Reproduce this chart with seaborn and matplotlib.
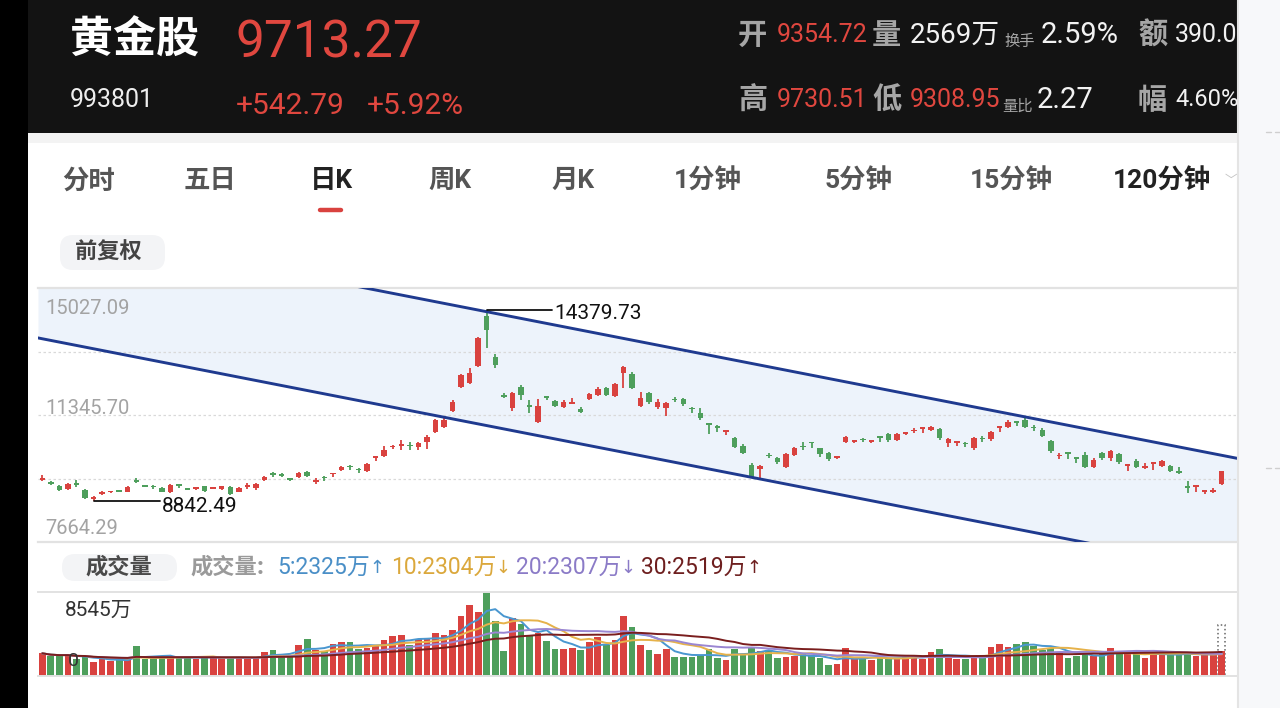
import numpy as np
import pandas as pd
import matplotlib
matplotlib.use('Agg')
import matplotlib.pyplot as plt
from matplotlib.patches import Rectangle, FancyBboxPatch
from matplotlib.transforms import IdentityTransform
from matplotlib.lines import Line2D
import seaborn as sns

# 日K 数据 (黄金股 993801)
opens = [9462, 9390, 9288, 9201, 9375, 9172, 8911, 9042, 9100, 9157,
         9128, 9433, 9302, 9273, 9230, 9114, 9317, 9215, 9201, 9288,
         9215, 9201, 9259, 9114, 9273, 9230, 9462, 9636, 9607, 9505,
         9549, 9694, 9404, 9534, 9622, 9752, 9853, 9766, 9723, 10100,
         10158, 10405, 10448, 10462, 10419, 10564, 10854, 10999, 11463, 12159,
         12275, 12768, 14218, 13029, 11898, 11550, 12159, 11637, 11144, 11869,
         11753, 11579, 11666, 11521, 11811, 11927, 12130, 11898, 12565, 12536,
         11608, 11985, 11579, 11550, 11797, 11811, 11535, 11405, 11086, 10999,
         10854, 10680, 10448, 9897, 9781, 10172, 10100, 9839, 10187, 10434,
         10549, 10390, 10245, 10100, 10564, 10564, 10636, 10564, 10709, 10796,
         10622, 10796, 10868, 10941, 10912, 10941, 10535, 10535, 10520, 10390,
         10665, 10651, 10970, 10999, 11144, 11202, 10985, 10912, 10593, 10143,
         10245, 10100, 10187, 9839, 10245, 10100, 10216, 9868, 10013, 9810,
         9926, 9868, 9868, 9694, 9273, 9259, 9114, 9128, 9354.72]
closes = [9520, 9360, 9172, 9346, 9317, 8940, 8969, 9114, 9128, 9128,
          9259, 9404, 9273, 9245, 9114, 9317, 9302, 9186, 9230, 9143,
          9244, 9288, 9056, 9230, 9302, 9346, 9549, 9607, 9578, 9476,
          9665, 9578, 9462, 9505, 9650, 9839, 9825, 9737, 9926, 10129,
          10332, 10434, 10491, 10434, 10535, 10709, 11202, 11202, 11724, 12507,
          12565, 13580, 13812, 12797, 11869, 11985, 11927, 11579, 11608, 11840,
          11608, 11724, 11724, 11434, 11956, 12101, 11927, 12246, 12739, 12130,
          11840, 11724, 11724, 11695, 11768, 11666, 11506, 11260, 11057, 10970,
          10883, 10419, 10245, 9549, 9868, 10143, 9984, 10216, 10390, 10405,
          10520, 10216, 10071, 10129, 10709, 10593, 10607, 10593, 10680, 10622,
          10796, 10825, 10897, 10970, 10999, 10680, 10651, 10564, 10491, 10680,
          10636, 10854, 10999, 11144, 11115, 10999, 10956, 10738, 10303, 10172,
          10216, 10071, 9839, 10042, 10100, 10303, 9984, 9897, 9839, 9839,
          9955, 10013, 9723, 9665, 9244, 9288, 9143, 9170.48, 9713.27]
highs = [9607, 9433, 9317, 9375, 9462, 9201, 8998, 9143, 9157, 9172,
         9288, 9520, 9317, 9317, 9259, 9346, 9317, 9230, 9245, 9302,
         9259, 9302, 9288, 9259, 9375, 9375, 9578, 9694, 9665, 9520,
         9694, 9723, 9520, 9578, 9665, 9868, 9897, 9810, 9955, 10143,
         10448, 10477, 10622, 10564, 10564, 10767, 11231, 11260, 11782, 12536,
         12710, 13609, 14379.73, 13116, 11985, 12014, 12217, 11782, 11811, 11898,
         11782, 11782, 11840, 11579, 11985, 12159, 12159, 12275, 12768, 12594,
         12014, 12014, 11811, 11724, 11869, 11840, 11579, 11550, 11086, 11057,
         10883, 10709, 10506, 9955, 9897, 10245, 10129, 10245, 10419, 10564,
         10564, 10390, 10274, 10143, 10738, 10622, 10680, 10622, 10709, 10825,
         10825, 10854, 10970, 10999, 11028, 10970, 10680, 10564, 10564, 10709,
         10738, 10883, 11028, 11202, 11144, 11260, 11057, 10970, 10622, 10245,
         10274, 10129, 10274, 10100, 10274, 10332, 10245, 9926, 10071, 9955,
         9984, 10042, 9897, 9839, 9433, 9302, 9172, 9230, 9730.51]
lows = [9433, 9317, 9143, 9172, 9259, 8911, 8842.49, 9027, 9085, 9114,
        9114, 9375, 9259, 9201, 9100, 9085, 9230, 9172, 9186, 9128,
        9201, 9186, 9027, 9100, 9201, 9172, 9433, 9549, 9549, 9433,
        9520, 9549, 9346, 9433, 9549, 9723, 9752, 9665, 9694, 10013,
        10129, 10361, 10332, 10332, 10332, 10361, 10825, 10970, 11434, 12130,
        12246, 12739, 13290, 12710, 11840, 11463, 11782, 11405, 11115, 11782,
        11579, 11550, 11666, 11405, 11782, 11898, 11898, 11869, 12130, 12101,
        11579, 11666, 11521, 11318, 11724, 11608, 11405, 11202, 10796, 10854,
        10767, 10390, 10216, 9520, 9520, 10100, 9926, 9810, 10158, 10332,
        10390, 10129, 10013, 10071, 10535, 10535, 10564, 10535, 10564, 10564,
        10593, 10767, 10825, 10825, 10883, 10622, 10419, 10448, 10419, 10332,
        10564, 10593, 10854, 10970, 11028, 10970, 10883, 10709, 10245, 10071,
        10071, 9955, 9810, 9810, 10042, 10013, 9926, 9723, 9810, 9781,
        9752, 9839, 9694, 9636, 9085, 9114, 9056, 9085, 9308.95]
# 成交量, 万
volumes = [2306, 2034, 2034, 2136, 1729, 1966, 1458, 1695, 1525, 1627,
           1729, 3085, 1695, 1797, 1865, 1898, 1966, 1898, 1729, 1966,
           1966, 1797, 1898, 1898, 1729, 1898, 2475, 2610, 2136, 2136,
           3153, 3729, 2644, 2543, 3288, 3491, 3424, 2746, 2814, 3085,
           3627, 4102, 4170, 3153, 3763, 3763, 4339, 4170, 4678, 6102,
           7221, 6543, 8545, 5594, 2543, 5933, 5323, 4170, 4339, 3559,
           2712, 2746, 2881, 2610, 3491, 3932, 3153, 3661, 6102, 5018,
           3153, 2610, 2204, 2712, 1932, 1932, 1932, 2136, 2746, 1797,
           1627, 2712, 2272, 2983, 2543, 2610, 1797, 1932, 2034, 2272,
           2136, 1797, 1119, 1187, 2881, 1797, 1865, 1627, 1797, 1865,
           1865, 1966, 1966, 1729, 2407, 2712, 1865, 1695, 1695, 2136,
           1966, 2949, 3288, 2983, 3220, 3424, 3051, 2644, 2814, 2407,
           1797, 2034, 2204, 2034, 2204, 2814, 2407, 2407, 2306, 1865,
           2272, 2306, 2204, 2204, 2306, 2068, 2204, 2204, 2569]
est_volume = 5190  # dotted projection on the last bar

# price axis range and labels
price_min, price_max = 7664.29, 15027.09
price_labels = ['15027.09', '11345.70', '7664.29']
vol_max_label = '8545万'

# descending channel (index, price) end points
channel_x = [-0.5, 139.9]
channel_upper = [16881, 10085]
channel_lower = [13580, 6785]

# volume MA legend
ma_windows = [5, 10, 20, 30]
ma_labels = ['5:2325万', '10:2304万', '20:2307万', '30:2519万']
ma_arrows = ['↑', '↓', '↓', '↑']

# header quotes
name, code = '黄金股', '993801'
last_price, change, change_pct = '9713.27', '+542.79', '+5.92%'
tabs = ['分时', '五日', '日K', '周K', '月K', '1分钟', '5分钟', '15分钟', '120分钟']

# 🔧 Config
W, H = 1280, 708
PX = IdentityTransform()
CJK = ['Noto Sans CJK SC', 'DejaVu Sans']
NUM = ['Roboto', 'Noto Sans CJK SC', 'DejaVu Sans']
RED = '#d9423f'
GREEN = '#4e9f5c'
HRED = '#e0473f'
NAVY = '#1f3a8f'
MA_COLORS = ['#4a97d0', '#e6b24a', '#9a86d2', '#7a1e1e']
LEG_COLORS = ['#4a8fc7', '#dba83c', '#8b7bc7', '#6e1f1f']

sns.set_theme(style='white')
plt.rcParams['font.family'] = CJK

fig = plt.figure(figsize=(W / 100, H / 100), dpi=100)
fig.patch.set_facecolor('white')


def put(x, y, s, size, color, family=CJK, weight='normal', ha='left', va='center', z=5):
    fig.text(x, H - y, s, transform=PX, fontsize=size, color=color, family=family,
             fontweight=weight, ha=ha, va=va, zorder=z)


def rect(x0, y0, x1, y1, color, z=0):
    fig.add_artist(Rectangle((x0, H - y1), x1 - x0, y1 - y0, transform=PX,
                             facecolor=color, edgecolor='none', zorder=z))


def pill(x0, y0, x1, y1, color, r=13, z=1):
    fig.add_artist(FancyBboxPatch((x0, H - y1), x1 - x0, y1 - y0,
                                  boxstyle=f'round,pad=0,rounding_size={r}', transform=PX,
                                  facecolor=color, edgecolor='none', zorder=z))


def hline(x0, x1, y, color, lw=1.0, z=2, ls='-'):
    fig.add_artist(Line2D([x0, x1], [H - y, H - y], transform=PX, color=color, lw=lw, zorder=z, ls=ls))


# 🖤 header block
rect(28, 0, 1238, 133, '#131313')
rect(28, 133, 1238, 143, '#f3f3f3')
put(70, 40, name, 31, 'white', weight='bold')
put(236, 43, last_price, 37, HRED, family=NUM)
put(70, 100, code, 18, '#eeeeee', family=NUM)
put(236, 106, change, 21.5, HRED, family=NUM)
put(367, 106, change_pct, 21.5, HRED, family=NUM)

GRAY_H = '#a6a6a6'
WHITE_H = '#f2f2f2'
row1 = [(738, '开', 21, GRAY_H, CJK), (777, '9354.72', 18, HRED, NUM), (872, '量', 21, GRAY_H, CJK),
        (910, '2569万', 20, WHITE_H, NUM), (1041, '2.59%', 21, WHITE_H, NUM),
        (1138, '额', 21, GRAY_H, CJK), (1175, '390.0', 18, WHITE_H, NUM)]
row2 = [(738, '高', 21, GRAY_H, CJK), (777, '9730.51', 18, HRED, NUM), (872, '低', 21, GRAY_H, CJK),
        (910, '9308.95', 18, HRED, NUM), (1037, '2.27', 21, WHITE_H, NUM),
        (1138, '幅', 21, GRAY_H, CJK), (1175, '4.60%', 17, WHITE_H, NUM)]
for x, s, sz, c, fam in row1:
    put(x, 35, s, sz, c, family=fam, weight='bold' if fam is CJK else 'normal')
for x, s, sz, c, fam in row2:
    put(x, 100, s, sz, c, family=fam, weight='bold' if fam is CJK else 'normal')
put(1004, 41, '换手', 11, GRAY_H)
put(1002, 106, '量比', 11, GRAY_H)

# 📑 tab bar
tab_x = [89, 210, 331, 450, 573, 708, 859, 1011, 1162]
for x, t in zip(tab_x, tabs):
    active = t in ('日K', '120分钟')
    put(x, 181, t, 19, '#222222' if active else '#555555', family=NUM,
        weight='bold', ha='center')
put(1231, 180, '﹀', 9, '#c4c4c4', ha='center')
fig.add_artist(Line2D([320, 341], [H - 210, H - 210], transform=PX, color=RED, lw=3.2,
                      solid_capstyle='round', zorder=3))
pill(60, 235, 165, 270, '#f3f4f6')
put(108, 252, '前复权', 16, '#444444', weight='bold', ha='center')

# 📈 candlestick panel
idx = np.arange(len(opens))
o, c = np.array(opens), np.array(closes)
hi, lo = np.array(highs), np.array(lows)
up = c >= o
colors = np.where(up, RED, GREEN)

ax = fig.add_axes([38 / W, 1 - 542 / H, 1200 / W, 254 / H])
ax.set_facecolor('white')
ax.fill_between(channel_x, channel_lower, channel_upper, color='#edf3fb', lw=0, zorder=0)
for v in np.linspace(price_min, price_max, 5)[1:-1]:
    ax.axhline(v, color='#d9d9d9', lw=0.9, ls=(0, (2, 2)), zorder=0.5)
ax.plot(channel_x, channel_upper, color=NAVY, lw=2.1, zorder=4)
ax.plot(channel_x, channel_lower, color=NAVY, lw=2.1, zorder=4)
ax.vlines(idx, lo, hi, colors=colors, lw=1.3, zorder=3)
body = np.maximum(np.abs(c - o), 45)
ax.bar(idx, body, bottom=np.minimum(o, c), width=0.64, color=colors, lw=0, zorder=3)

ax.set_xlim(channel_x)
ax.set_ylim(price_min, price_max)
ax.set_xticks([])
ax.set_yticks([])
for side in ('left', 'right'):
    ax.spines[side].set_visible(False)
for side in ('top', 'bottom'):
    ax.spines[side].set_color('#e2e2e2')
    ax.spines[side].set_linewidth(1.6)

ytrans = ax.get_yaxis_transform()
for lab, val, dy in zip(price_labels, [price_max, (price_min + price_max) / 2, price_min], [-20, 7, 14]):
    ax.annotate(lab, xy=(0.006, val), xycoords=ytrans, xytext=(0, dy), textcoords='offset pixels',
                va='center', ha='left', fontsize=14.5, color='#a3a3a3', family=NUM, zorder=5)

pk = int(np.argmax(hi))
ax.plot([pk, pk + 7.6], [hi[pk], hi[pk]], color='#111111', lw=1.3, zorder=5)
ax.annotate(f'{hi[pk]:.2f}', xy=(pk + 7.6, hi[pk]), xytext=(3, -3), textcoords='offset pixels',
            va='center', ha='left', fontsize=15, color='#111111', family=NUM, zorder=5)
lw_i = int(np.argmin(lo))
ax.plot([lw_i, lw_i + 7.8], [lo[lw_i], lo[lw_i]], color='#111111', lw=1.3, zorder=5)
ax.annotate(f'{lo[lw_i]:.2f}', xy=(lw_i + 7.8, lo[lw_i]), xytext=(2, -5), textcoords='offset pixels',
            va='center', ha='left', fontsize=15, color='#111111', family=NUM, zorder=5)

# 📊 volume panel
pill(62, 554, 177, 581, '#f3f4f6')
put(119, 567, '成交量', 16, '#4a4a4a', weight='bold', ha='center')
put(190, 567, '成交量:', 16, '#9a9a9a', weight='bold')
for x, ax_x, lab, arr, col in zip([277, 391, 516, 641], [377, 503, 628, 754], ma_labels, ma_arrows, LEG_COLORS):
    put(x, 568, lab, 16.5, col, family=NUM)
    put(ax_x, 568, arr, 13, col, family=['DejaVu Sans'], ha='center')

axv = fig.add_axes([38 / W, 1 - 676 / H, 1200 / W, 84 / H])
vol_df = pd.DataFrame({'idx': idx, 'vol': volumes, 'dir': np.where(up, 'up', 'down')})
axv.bar(idx[-1], est_volume, width=0.78, fill=False, edgecolor='#666666', ls=':', lw=1.1, zorder=0.5)
sns.barplot(data=vol_df, x='idx', y='vol', hue='dir', palette={'up': RED, 'down': GREEN},
            dodge=False, width=0.78, saturation=1, legend=False, linewidth=0, ax=axv)
vol_s = vol_df['vol'].astype(float)
for n, col in zip(ma_windows, MA_COLORS):
    sns.lineplot(x=idx, y=vol_s.rolling(n, min_periods=1).mean(), color=col, lw=1.4, ax=axv)
axv.set_xlim(channel_x)
axv.set_ylim(0, max(volumes))
axv.set_xticks([])
axv.set_yticks([])
axv.set_xlabel('')
axv.set_ylabel('')
for side in ('left', 'right'):
    axv.spines[side].set_visible(False)
for side in ('top', 'bottom'):
    axv.spines[side].set_color('#e2e2e2')
    axv.spines[side].set_linewidth(1.4)
put(65, 610, vol_max_label, 15, '#333333', family=NUM)
put(68, 661, '0', 14, '#333333', family=NUM, z=6)

# side strips
rect(0, 0, 28, H, 'black', z=10)
rect(1238, 0, W, H, '#f7f8fa', z=10)
fig.add_artist(Line2D([1238, 1238], [0, H], transform=PX, color='#e4e4e4', lw=1.5, zorder=11))
hline(1266, 1271, 132, '#cfcfcf', z=11)
hline(1275, 1280, 132, '#cfcfcf', z=11)
hline(1266, 1271, 468, '#cfcfcf', z=11)
hline(1275, 1280, 468, '#cfcfcf', z=11)

fig.savefig('out.png', dpi=100)
print('saved out.png')
